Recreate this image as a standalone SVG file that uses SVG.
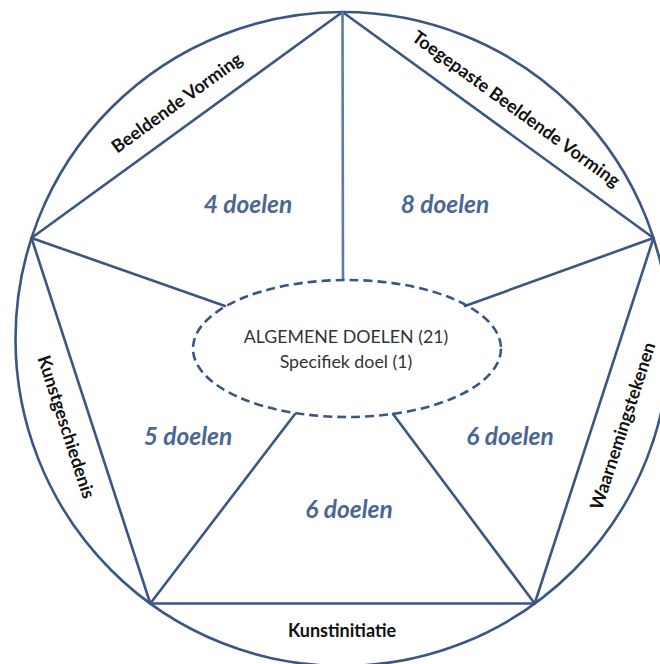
<svg xmlns="http://www.w3.org/2000/svg" width="660" height="664" viewBox="0 0 660 664">
<style>
.ln{stroke:#3b5683;stroke-width:2.6;fill:none;stroke-linecap:round}
.lt{stroke:#5a7bab;stroke-width:2.6;fill:none}
.edge{font-family:Lato,"Liberation Sans",sans-serif;font-weight:bold;font-size:18px;fill:#111;text-anchor:middle}
.cnt{font-family:Lato,"Liberation Sans",sans-serif;font-weight:bold;font-style:italic;font-size:24.5px;fill:#4a6792;text-anchor:middle}
.ctr{font-family:Lato,"Liberation Sans",sans-serif;font-size:17.8px;fill:#333;text-anchor:middle}
</style>
<rect width="660" height="664" fill="#fff"/>
<g id="outline">
<circle class="ln" cx="342.5" cy="339" r="327"/>
<polygon class="ln" points="342.5,12 653.5,238 534.7,603.5 150.3,603.5 31.5,238" stroke-linejoin="round"/>
</g>
<g id="connectors">
<line class="lt" x1="342.5" y1="12" x2="343" y2="280"/>
<line class="ln" x1="31.5" y1="238" x2="225" y2="306"/>
<line class="ln" x1="653.5" y1="238" x2="465" y2="306"/>
<line class="ln" x1="150.3" y1="603.5" x2="295" y2="414"/>
<line class="ln" x1="534.7" y1="603.5" x2="393" y2="414"/>
</g>
<g id="center">
<ellipse cx="347" cy="348.5" rx="154" ry="68.5" fill="none" stroke="#3b5683" stroke-width="2.6" stroke-dasharray="9,5"/>
<text class="ctr" x="346" y="343">ALGEMENE DOELEN (21)</text>
<text class="ctr" x="346" y="368">Specifiek doel (1)</text>
</g>
<g id="beeldende-vorming">
<text class="edge" transform="translate(177,103) rotate(-36)" y="6">Beeldende Vorming</text>
<text class="cnt" x="248" y="213">4 doelen</text>
</g>
<g id="toegepaste-beeldende-vorming">
<text class="edge" transform="translate(516,109) rotate(36)" y="6">Toegepaste Beeldende Vorming</text>
<text class="cnt" x="445" y="213">8 doelen</text>
</g>
<g id="kunstgeschiedenis">
<text class="edge" transform="translate(66,427) rotate(72)" y="6">Kunstgeschiedenis</text>
<text class="cnt" x="188" y="445">5 doelen</text>
</g>
<g id="waarnemingstekenen">
<text class="edge" transform="translate(623,426) rotate(-72)" y="6">Waarnemingstekenen</text>
<text class="cnt" x="510" y="445">6 doelen</text>
</g>
<g id="kunstinitiatie">
<text class="edge" x="342" y="637">Kunstinitiatie</text>
<text class="cnt" x="349" y="518">6 doelen</text>
</g>
</svg>
